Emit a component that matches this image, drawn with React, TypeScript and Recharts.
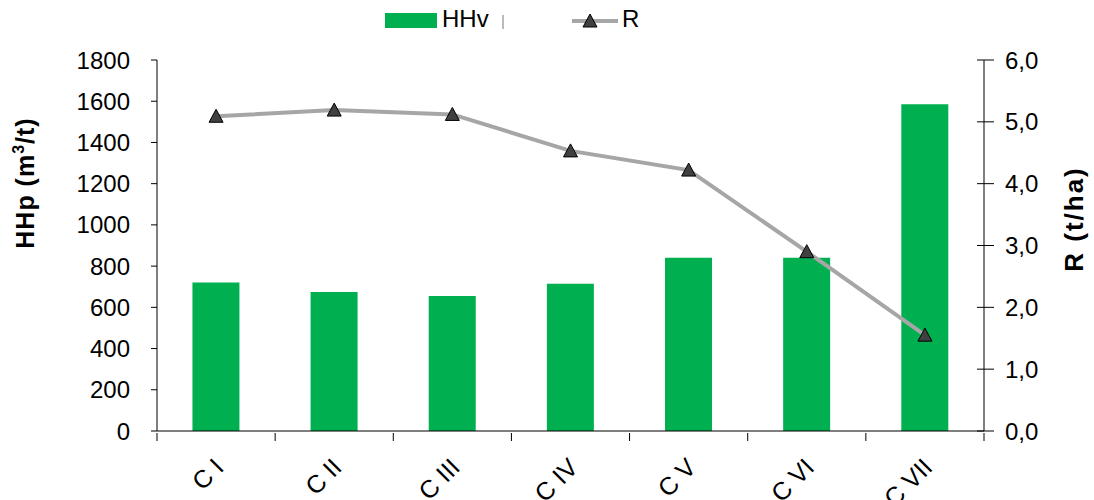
import React from "react";
import {
  ComposedChart,
  Bar,
  Line,
  XAxis,
  YAxis,
  Legend,
} from "recharts";

const categories = ["C I", "C II", "C III", "C IV", "C V", "C VI", "C VII"];
const hhvValues = [720, 675, 655, 715, 840, 840, 1585];
const rValues = [5.09, 5.19, 5.12, 4.53, 4.22, 2.9, 1.55];
const leftTicks = [0, 200, 400, 600, 800, 1000, 1200, 1400, 1600, 1800];
const rightTicks = [0, 1, 2, 3, 4, 5, 6];

const WIDTH = 1094;
const HEIGHT = 500;
const LEFT_AXIS_W = 157;
const RIGHT_AXIS_W = 110;
const BAND = (WIDTH - LEFT_AXIS_W - RIGHT_AXIS_W) / categories.length;

const FONT = '"Liberation Sans", Arial, sans-serif';
const GREEN = "#00b050";
const GREY = "#a6a6a6";

const data = categories.map((cat, i) => ({
  cat,
  hhv: hhvValues[i],
  r: rValues[i],
}));

// x labels tilted 45°, with tick marks between categories
function CategoryTick(props: any) {
  const { x, y, payload, index } = props;
  const left = x - BAND / 2;
  const right = x + BAND / 2;
  const ax = x + 9;
  const ay = y + 36;
  return (
    <g>
      <line x1={left} x2={left} y1={y} y2={y + 8} stroke="#000" />
      {index === categories.length - 1 && (
        <line x1={right} x2={right} y1={y} y2={y + 8} stroke="#000" />
      )}
      <text
        x={ax}
        y={ay}
        transform={`rotate(-45, ${ax}, ${ay})`}
        textAnchor="end"
        fontSize={25}
        fontFamily={FONT}
        fill="#000"
      >
        {payload.value}
      </text>
    </g>
  );
}

// right axis: crossing tick marks, comma decimals
function RightTick(props: any) {
  const { x, y, payload } = props;
  return (
    <g>
      <line x1={x - 9} x2={x + 8} y1={y} y2={y} stroke="#000" />
      <text
        x={x + 19}
        y={y}
        dy="0.36em"
        textAnchor="start"
        fontSize={24}
        fontFamily={FONT}
        fill="#000"
      >
        {payload.value.toFixed(1).replace(".", ",")}
      </text>
    </g>
  );
}

function LeftTitle() {
  return (
    <text
      x={34}
      y={183}
      transform="rotate(-90, 34, 183)"
      textAnchor="middle"
      fontSize={25}
      fontWeight="bold"
      fontFamily={FONT}
      letterSpacing={1}
      fill="#000"
    >
      HHp (m
      <tspan dy={-10} fontSize={16}>
        3
      </tspan>
      <tspan dy={10}>/t)</tspan>
    </text>
  );
}

function RightTitle() {
  return (
    <text
      x={1083}
      y={219}
      transform="rotate(-90, 1083, 219)"
      textAnchor="middle"
      fontSize={26}
      fontWeight="bold"
      fontFamily={FONT}
      letterSpacing={2}
      fill="#000"
    >
      R (t/ha)
    </text>
  );
}

function TriangleDot(props: any) {
  const { cx, cy } = props;
  if (cx == null || cy == null) return null;
  return (
    <path
      d={`M${cx},${cy - 7} L${cx + 7},${cy + 6} L${cx - 7},${cy + 6} Z`}
      fill="#404040"
      stroke="#000"
      strokeWidth={1}
    />
  );
}

function LegendBox() {
  return (
    <div style={{ position: "relative", width: WIDTH, height: 40, fontFamily: FONT, fontSize: 24, color: "#000" }}>
      <div style={{ position: "absolute", left: 385, top: 13, width: 52, height: 15, background: GREEN }} />
      <span style={{ position: "absolute", left: 442, top: 6, lineHeight: "26px" }}>HHv</span>
      <div style={{ position: "absolute", left: 502, top: 15, width: 2, height: 14, background: "#bbb" }} />
      <svg style={{ position: "absolute", left: 570, top: 10 }} width={50} height={22}>
        <line x1={2} x2={48} y1={11} y2={11} stroke={GREY} strokeWidth={4} />
        <path d="M20,4 L27,17 L13,17 Z" fill="#404040" stroke="#000" strokeWidth={1} />
      </svg>
      <span style={{ position: "absolute", left: 622, top: 6, lineHeight: "26px" }}>R</span>
    </div>
  );
}

export default function App() {
  return (
    <div style={{ position: "absolute", left: 0, top: 0, width: WIDTH, height: HEIGHT, background: "#fff" }}>
      <ComposedChart
        width={WIDTH}
        height={HEIGHT}
        data={data}
        margin={{ top: 60, right: 0, bottom: 0, left: 0 }}
        barCategoryGap="30%"
      >
        <XAxis
          dataKey="cat"
          height={69}
          interval={0}
          tickSize={0}
          tickLine={false}
          axisLine={{ stroke: "#000" }}
          tick={<CategoryTick />}
        />
        <YAxis
          yAxisId="left"
          width={LEFT_AXIS_W}
          domain={[0, 1800]}
          ticks={leftTicks}
          interval={0}
          tickSize={6}
          tickMargin={21}
          axisLine={{ stroke: "#000" }}
          tickLine={{ stroke: "#000" }}
          tick={{ fill: "#000", fontSize: 24, fontFamily: FONT }}
          label={<LeftTitle />}
        />
        <YAxis
          yAxisId="right"
          orientation="right"
          width={RIGHT_AXIS_W}
          domain={[0, 6]}
          ticks={rightTicks}
          interval={0}
          tickSize={0}
          tickLine={false}
          axisLine={{ stroke: "#000" }}
          tick={<RightTick />}
          label={<RightTitle />}
        />
        <Legend
          layout="vertical"
          align="center"
          verticalAlign="middle"
          wrapperStyle={{ top: 0, left: 0, width: WIDTH }}
          content={<LegendBox />}
        />
        <Bar yAxisId="left" dataKey="hhv" name="HHv" fill={GREEN} isAnimationActive={false} />
        <Line
          yAxisId="right"
          dataKey="r"
          name="R"
          type="linear"
          stroke={GREY}
          strokeWidth={4}
          dot={<TriangleDot />}
          activeDot={false}
          isAnimationActive={false}
        />
      </ComposedChart>
    </div>
  );
}
